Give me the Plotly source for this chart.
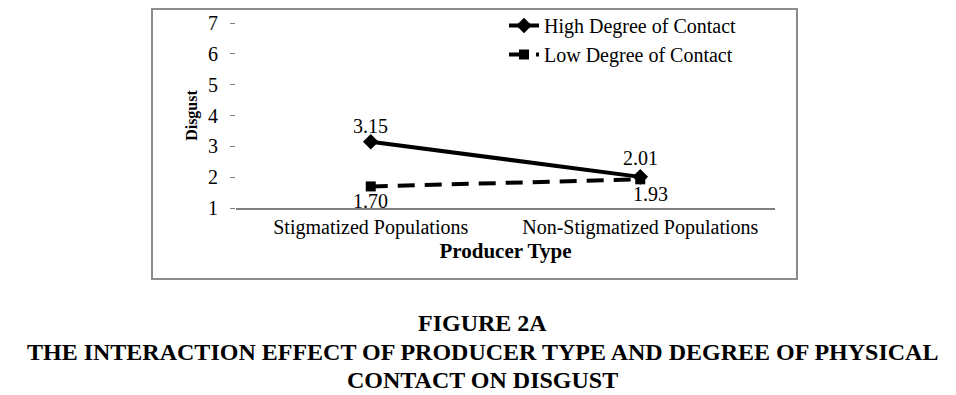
import plotly.graph_objects as go

categories = ["Stigmatized Populations", "Non-Stigmatized Populations"]
high_contact = [3.15, 2.01]
low_contact = [1.70, 1.93]
high_labels = ["3.15", "2.01"]
low_labels = ["1.70", "1.93"]
series_names = ["High Degree of Contact", "Low Degree of Contact"]

# The page places the figure 8px from the top-left corner of the window.
OX, OY = 8, 8
WIN_W, WIN_H = 956, 395
W, H = WIN_W - OX, WIN_H - OY
L, R, T, B = 236, 775, 23, 208  # plot area bounds in window pixels

def pxx(x):
    return (x - L) / (R - L)

def pxy(y):
    return (B - y) / (B - T)

SERIF = "Liberation Serif, Times New Roman, serif"

fig = go.Figure()
fig.add_trace(go.Scatter(
    x=[0, 1], y=high_contact, name=series_names[0], mode="lines+markers",
    line=dict(color="black", width=4),
    marker=dict(symbol="diamond", size=12, color="black"),
))
fig.add_trace(go.Scatter(
    x=[0, 1], y=low_contact, name=series_names[1], mode="lines+markers",
    line=dict(color="black", width=4, dash="17px,10px"),
    marker=dict(symbol="square", size=10, color="black"),
))

# data labels
for i, (v, t) in enumerate(zip(high_contact, high_labels)):
    fig.add_annotation(x=i, y=v, text=t, showarrow=False, xref="x", yref="y",
                       yanchor="bottom", yshift=3 if i == 0 else 6,
                       font=dict(family=SERIF, size=20, color="black"))
for i, (v, t) in enumerate(zip(low_contact, low_labels)):
    fig.add_annotation(x=i, y=v, text=t, showarrow=False, xref="x", yref="y",
                       yanchor="top", yshift=-2, xshift=0 if i == 0 else 10,
                       font=dict(family=SERIF, size=20, color="black"))

fig.update_layout(
    width=W, height=H,
    margin=dict(l=L - OX, r=WIN_W - R, t=T - OY, b=WIN_H - B, pad=0, autoexpand=False),
    paper_bgcolor="white", plot_bgcolor="white",
    font=dict(family=SERIF, size=20, color="black"),
    showlegend=True,
    legend=dict(x=pxx(504), y=pxy(6), xanchor="left", yanchor="top",
                font=dict(family=SERIF, size=20, color="black"),
                bgcolor="rgba(0,0,0,0)", tracegroupgap=0),
    xaxis=dict(
        range=[-0.5, 1.5], tickmode="array", tickvals=[0, 1], ticktext=categories,
        showgrid=False, zeroline=False, showline=True, linecolor="#808080", linewidth=2,
        ticks="", tickfont=dict(family=SERIF, size=20, color="black"),
        title=dict(text="<b>Producer Type</b>", font=dict(family=SERIF, size=21), standoff=2),
    ),
    yaxis=dict(
        range=[1, 7], tickmode="array", tickvals=[1, 2, 3, 4, 5, 6, 7],
        showgrid=False, zeroline=False, showline=False,
        ticks="outside", ticklen=5, tickcolor="#808080", tickwidth=1,
        ticklabelstandoff=8,
        tickfont=dict(family=SERIF, size=20, color="black"),
        title=dict(text="<b>Disgust</b>", font=dict(family=SERIF, size=16), standoff=6),
    ),
)

# Chart frame
fig.add_shape(type="rect", xref="paper", yref="paper",
              x0=pxx(152), x1=pxx(797), y0=pxy(279), y1=pxy(9),
              line=dict(color="#8c8c8c", width=2), fillcolor="rgba(0,0,0,0)")

caption = ["FIGURE 2A",
           "THE INTERACTION EFFECT OF PRODUCER TYPE AND DEGREE OF PHYSICAL",
           "CONTACT ON DISGUST"]
for line, yc in zip(caption, [323, 352, 380]):
    fig.add_annotation(text="<b>%s</b>" % line, xref="paper", yref="paper",
                       x=pxx(WIN_W / 2 + 4), y=pxy(yc), xanchor="center", yanchor="middle",
                       showarrow=False, font=dict(family=SERIF, size=24, color="black"))

fig.write_html("out.html")
